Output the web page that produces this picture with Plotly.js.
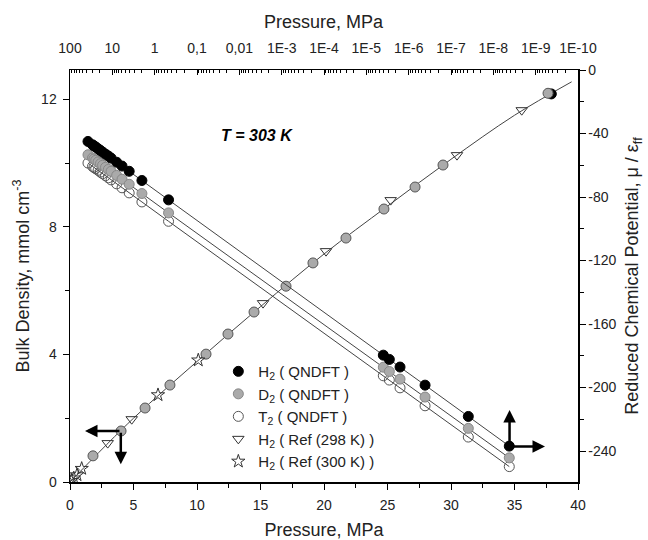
<!DOCTYPE html>
<html><head><meta charset="utf-8">
<script src="https://cdn.plot.ly/plotly-3.0.1.min.js"></script>
<style>html,body{margin:0;padding:0;background:#fff}#chart{width:648px;height:540px}</style>
</head><body><div id="chart"></div>
<script>
// ---- Bulk density vs pressure (bottom linear axis, left axis) ----
const pBulkQ   = [1.81, 4.02, 5.91, 7.87, 10.71, 12.44, 14.49, 17.01, 19.13, 21.73, 24.72, 27.17, 29.37, 37.64];
const rhoBulkQ = [0.82, 1.60, 2.32, 3.04, 4.01, 4.64, 5.33, 6.14, 6.87, 7.65, 8.56, 9.25, 9.94, 12.19];
const pBulkH2   = [37.9];
const rhoBulkH2 = [12.17];
const pRef298   = [2.97, 4.86, 15.20, 20.16, 25.25, 30.47, 35.57];
const rhoRef298 = [1.22, 1.97, 5.61, 7.24, 8.84, 10.25, 11.66];
const pRef300   = [0.10, 0.30, 0.55, 0.92, 6.93, 10.10];
const rhoRef300 = [0.04, 0.12, 0.22, 0.42, 2.73, 3.82];
const pFit   = [0, 5, 10, 15, 20, 25, 30, 35, 39.5];
const rhoFit = [0, 2.0, 3.78, 5.5, 7.15, 8.65, 10.12, 11.5, 12.55];

// ---- Reduced chemical potential vs pressure (top log axis, right axis) ----
const pQ   = [37.6, 29.4, 27.2, 24.7, 21.7, 19.1, 17.0, 14.5, 12.4, 10.7, 7.9, 5.9, 4.0, 2.0, 0.47, 3.97e-6, 2.86e-6, 1.6e-6, 4.1e-7, 3.9e-8, 4.2e-9];
const muH2 = [-45.0,-47.1,-47.8,-48.5,-49.6,-50.7,-51.7,-53.0,-54.2,-55.5,-58.1,-60.5,-63.8,-69.6,-81.8,-179.6,-182.3,-187.1,-198.5,-218.2,-236.9];
const muD2 = [-53.4,-55.4,-56.1,-56.9,-57.9,-59.0,-60.0,-61.3,-62.6,-63.8,-66.4,-68.8,-72.0,-77.8,-90.0,-187.2,-189.9,-194.7,-206.0,-225.7,-244.3];
const muT2 = [-58.6,-60.7,-61.4,-62.2,-63.2,-64.3,-65.3,-66.6,-67.9,-69.2,-71.7,-74.2,-77.4,-83.1,-95.3,-192.6,-195.3,-200.2,-211.5,-231.2,-249.8];

// ---- tick labels ----
const topTickVals = [100, 10, 1, 0.1, 0.01, 1e-3, 1e-4, 1e-5, 1e-6, 1e-7, 1e-8, 1e-9, 1e-10];
const topTickText = ['100','10','1','0,1','0,01','1E-3','1E-4','1E-5','1E-6','1E-7','1E-8','1E-9','1E-10'];
const rightTickVals = [0, -40, -80, -120, -160, -200, -240];
const rightTickText = ['0','-40','-80','-120','-160','-200','-240'];

const topMinor = [];
for (let e = 1; e >= -10; e--) for (let m = 2; m <= 9; m++) topMinor.push(m * Math.pow(10, e));

const FONT = 'Liberation Sans, Arial, sans-serif';
const TXT = '#222';
const lineStyle = {color: '#444', width: 1};

const traces = [
  {x: pFit, y: rhoFit, mode: 'lines', showlegend: false, xaxis: 'x', yaxis: 'y', line: {color:'#444', width:1, shape:'spline'}},
  {x: pQ, y: muH2, mode: 'lines', line: lineStyle, showlegend: false, xaxis: 'x2', yaxis: 'y2'},
  {x: pQ, y: muD2, mode: 'lines', line: lineStyle, showlegend: false, xaxis: 'x2', yaxis: 'y2'},
  {x: pQ, y: muT2, mode: 'lines', line: lineStyle, showlegend: false, xaxis: 'x2', yaxis: 'y2'},
  {x: pBulkH2, y: rhoBulkH2, mode: 'markers', showlegend: false, xaxis: 'x', yaxis: 'y',
   marker: {symbol: 'circle', size: 10, color: '#000', line: {color: '#000', width: 1}}},
  {x: pBulkQ, y: rhoBulkQ, mode: 'markers', showlegend: false, xaxis: 'x', yaxis: 'y',
   marker: {symbol: 'circle', size: 10, color: '#aaaaaa', line: {color: '#555', width: 1}}},
  {x: pQ, y: muT2, mode: 'markers', name: 'T<sub>2</sub> ( QNDFT )', legendrank: 3, xaxis: 'x2', yaxis: 'y2',
   marker: {symbol: 'circle-open', size: 10, color: '#555', line: {width: 1}}},
  {x: pQ, y: muD2, mode: 'markers', name: 'D<sub>2</sub> ( QNDFT )', legendrank: 2, xaxis: 'x2', yaxis: 'y2',
   marker: {symbol: 'circle', size: 10, color: '#aaaaaa', line: {color: '#888', width: 1}}},
  {x: pQ, y: muH2, mode: 'markers', name: 'H<sub>2</sub> ( QNDFT )', legendrank: 1, xaxis: 'x2', yaxis: 'y2',
   marker: {symbol: 'circle', size: 10, color: '#000', line: {color: '#000', width: 1}}},
  {x: pRef298, y: rhoRef298, mode: 'markers', name: 'H<sub>2</sub> ( Ref (298 K) )', legendrank: 4, xaxis: 'x', yaxis: 'y',
   marker: {symbol: 'triangle-down-open', size: 10, color: '#333', line: {width: 1}}},
  {x: pRef300, y: rhoRef300, mode: 'markers', name: 'H<sub>2</sub> ( Ref (300 K) )', legendrank: 5, xaxis: 'x', yaxis: 'y',
   marker: {symbol: 'star-open', size: 10, color: '#333', line: {width: 1}}}
];

const axisCommon = {showgrid: false, zeroline: false, showline: true, linecolor: '#000', linewidth: 1.5,
  tickcolor: '#000', tickwidth: 1, tickfont: {family: FONT, size: 14, color: TXT}};

const arrowCommon = {text: '', showarrow: true, arrowhead: 2, arrowsize: 1, arrowwidth: 2.5, arrowcolor: '#000', standoff: 0, startstandoff: 0, xref: 'x', yref: 'y'};

const layout = {
  width: 648, height: 540,
  margin: {l: 70, r: 70, t: 70, b: 58},
  paper_bgcolor: '#fff', plot_bgcolor: '#fff',
  font: {family: FONT, color: TXT},
  showlegend: true,
  legend: {x: 0.292, y: 0.308, xanchor: 'left', yanchor: 'top', bgcolor: 'rgba(0,0,0,0)',
           font: {family: FONT, size: 15, color: TXT}, traceorder: 'normal'},
  xaxis: Object.assign({}, axisCommon, {
    range: [0, 40], tickmode: 'linear', tick0: 0, dtick: 5, ticks: 'outside', ticklen: 6,
    minor: {dtick: 2.5, ticks: 'outside', ticklen: 4, tickcolor: '#000'},
    ticklabelstandoff: 4,
    title: {text: 'Pressure, MPa', font: {family: FONT, size: 18, color: TXT}, standoff: 14}
  }),
  yaxis: Object.assign({}, axisCommon, {
    range: [0, 12.92], tickmode: 'linear', tick0: 0, dtick: 4, ticks: 'outside', ticklen: 6,
    minor: {dtick: 2, ticks: 'outside', ticklen: 4, tickcolor: '#000'},
    ticklabelstandoff: 3,
    title: {text: 'Bulk Density, mmol cm<sup>-3</sup>', font: {family: FONT, size: 18, color: TXT}, standoff: 7}
  }),
  xaxis2: Object.assign({}, axisCommon, {
    type: 'log', overlaying: 'x', side: 'top', anchor: 'y', range: [2, -10], autorange: false,
    tickmode: 'array', tickvals: topTickVals, ticktext: topTickText, ticks: 'inside', ticklen: 5,
    minor: {tickmode: 'array', tickvals: topMinor, ticks: 'inside', ticklen: 3, tickcolor: '#000'},
    ticklabelstandoff: 10
  }),
  yaxis2: Object.assign({}, axisCommon, {
    overlaying: 'y', side: 'right', anchor: 'x', range: [-259.5, 0], autorange: false,
    tickmode: 'array', tickvals: rightTickVals, ticktext: rightTickText, ticks: 'outside', ticklen: 6,
    minor: {tickmode: 'linear', tick0: -20, dtick: 40, ticks: 'outside', ticklen: 4, tickcolor: '#000'},
    title: {text: 'Reduced Chemical Potential, \u03bc / \u03b5<sub>ff</sub>', font: {family: FONT, size: 18, color: TXT}, standoff: 10}
  }),
  annotations: [
    {xref: 'paper', yref: 'paper', x: 0.5, y: 1.117, yanchor: 'middle', text: 'Pressure, MPa', showarrow: false,
     font: {family: FONT, size: 18, color: TXT}},
    {xref: 'paper', yref: 'paper', x: 0.368, y: 0.866, text: '<b><i>T = 303 K</i></b>', showarrow: false,
     font: {family: FONT, size: 16, color: '#000'}},
    Object.assign({}, arrowCommon, {x: 1.18, y: 1.60, ax: 36, ay: 0}),
    Object.assign({}, arrowCommon, {x: 4.0, y: 0.56, ax: 0, ay: -33}),
    Object.assign({}, arrowCommon, {x: 34.61, y: 2.26, ax: 0, ay: 36}),
    Object.assign({}, arrowCommon, {x: 37.40, y: 1.11, ax: -35.5, ay: 0})
  ]
};

Plotly.newPlot('chart', traces, layout, {displayModeBar: false, staticPlot: true});
</script>
</body></html>
